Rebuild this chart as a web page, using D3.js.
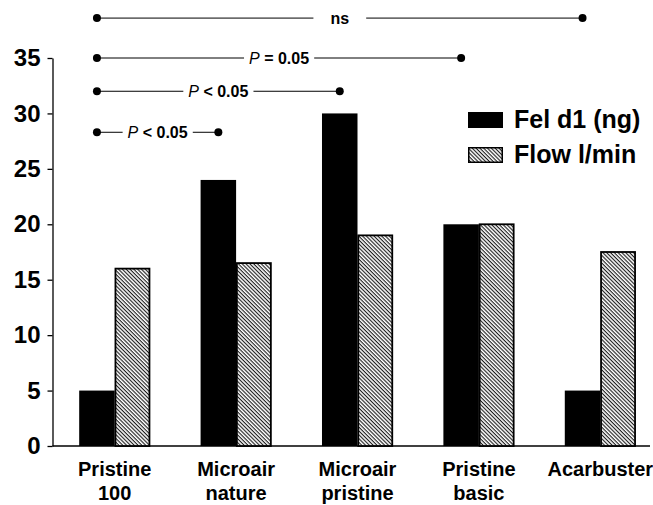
<!DOCTYPE html>
<html>
<head>
<meta charset="utf-8">
<script src="https://cdn.jsdelivr.net/npm/d3@7"></script>
<style>
  body { margin: 0; background: #fff; }
  svg { display: block; font-family: "Liberation Sans", Arial, Helvetica, sans-serif; }
</style>
</head>
<body>
<svg id="chart" width="653" height="505"></svg>
<script>
// data
const categories = [["Pristine", "100"], ["Microair", "nature"], ["Microair", "pristine"], ["Pristine", "basic"], ["Acarbuster"]];
const catKeys = categories.map(c => c.join(" "));
const seriesNames = ["Fel d1 (ng)", "Flow l/min"];
const felD1 = [5, 24, 30, 20, 5];
const flow = [16, 16.5, 19, 20, 17.5];
const yTicks = [0, 5, 10, 15, 20, 25, 30, 35];

// significance brackets: from group, to group, label, height (in y units)
const compFrom = [0, 0, 0, 0];
const compTo = [4, 3, 2, 1];
const compLabel = [["", "ns"], ["P", " = 0.05"], ["P", " < 0.05"], ["P", " < 0.05"]];
const compLevel = [38.6, 35, 32, 28.3];

const svg = d3.select("#chart");

const defs = svg.append("defs");
const pat = defs.append("pattern")
    .attr("id", "hatch")
    .attr("patternUnits", "userSpaceOnUse")
    .attr("width", 8)
    .attr("height", 2.7)
    .attr("patternTransform", "rotate(45)");
pat.append("rect").attr("width", 8).attr("height", 2.7).attr("fill", "#fff");
pat.append("line")
    .attr("x1", 0).attr("x2", 8)
    .attr("y1", 0.6).attr("y2", 0.6)
    .attr("stroke", "#000")
    .attr("stroke-width", 1);

const x0 = d3.scaleBand()
    .domain(catKeys)
    .range([54, 661])
    .paddingInner(0.415)
    .paddingOuter(0.2075);

const x1 = d3.scaleBand()
    .domain(seriesNames)
    .range([0, x0.bandwidth()]);

const y = d3.scaleLinear()
    .domain([0, 35])
    .range([446, 58]);

// y axis
const yAxis = svg.append("g")
    .attr("transform", "translate(52.5,0)")
    .call(d3.axisLeft(y).tickValues(yTicks).tickSize(5).tickSizeOuter(0).tickPadding(7));
yAxis.select(".domain").attr("stroke", "#000").attr("stroke-width", 1.3);
yAxis.selectAll(".tick line").attr("stroke", "#000").attr("stroke-width", 1.3);
yAxis.selectAll(".tick text")
    .attr("fill", "#000")
    .style("font-size", "24px")
    .style("font-weight", "bold");

// x axis line
svg.append("line")
    .attr("x1", 52.5)
    .attr("x2", 650)
    .attr("y1", y(0))
    .attr("y2", y(0))
    .attr("stroke", "#000")
    .attr("stroke-width", 1.3);

// bars
const groups = svg.selectAll(".grp")
    .data(catKeys)
    .enter()
    .append("g")
    .attr("class", "grp")
    .attr("transform", d => `translate(${x0(d)},0)`);

groups.append("rect")
    .attr("x", x1(seriesNames[0]))
    .attr("y", (d, i) => y(felD1[i]))
    .attr("width", x1.bandwidth())
    .attr("height", (d, i) => y(0) - y(felD1[i]))
    .attr("fill", "#000");

groups.append("rect")
    .attr("x", x1(seriesNames[1]) + 0.75)
    .attr("y", (d, i) => y(flow[i]))
    .attr("width", x1.bandwidth() - 1.5)
    .attr("height", (d, i) => y(0) - y(flow[i]))
    .attr("fill", "url(#hatch)")
    .attr("stroke", "#000")
    .attr("stroke-width", 1.8);

// x labels
const xl = svg.selectAll(".x-label")
    .data(categories)
    .enter()
    .append("text")
    .attr("class", "x-label")
    .attr("x", (d, i) => x0(catKeys[i]) + x0.bandwidth() / 2)
    .attr("y", 476)
    .attr("text-anchor", "middle")
    .style("font-size", "20px")
    .style("font-weight", "bold");
xl.each(function (d) {
    const t = d3.select(this);
    d.forEach((line, j) => {
        t.append("tspan")
         .attr("x", t.attr("x"))
         .attr("dy", j === 0 ? 0 : 24)
         .text(line);
    });
});

// significance brackets
const blackCenter = i => x0(catKeys[i]) + x1(seriesNames[0]) + x1.bandwidth() / 2;

compLabel.forEach((lab, k) => {
    const xa = blackCenter(compFrom[k]);
    const xb = blackCenter(compTo[k]);
    const yy = y(compLevel[k]);
    const g = svg.append("g");

    g.append("line")
     .attr("x1", xa).attr("x2", xb)
     .attr("y1", yy).attr("y2", yy)
     .attr("stroke", "#000")
     .attr("stroke-width", 1);

    const gap = g.append("rect").attr("fill", "#fff");

    const t = g.append("text")
        .attr("x", (xa + xb) / 2)
        .attr("y", yy)
        .attr("dy", "0.35em")
        .attr("text-anchor", "middle")
        .style("font-size", "16px");
    if (lab[0]) t.append("tspan").style("font-style", "italic").text(lab[0]);
    t.append("tspan").style("font-weight", "bold").text(lab[1]);

    const bb = t.node().getBBox();
    const pad = lab[0] ? 5 : 17;
    gap.attr("x", bb.x - pad).attr("y", bb.y)
       .attr("width", bb.width + 2 * pad).attr("height", bb.height);

    g.selectAll("circle")
     .data([xa, xb])
     .enter()
     .append("circle")
     .attr("cx", d => d)
     .attr("cy", yy)
     .attr("r", 4)
     .attr("fill", "#000");
});

// legend
const legend = svg.append("g").attr("transform", "translate(468,112)");
seriesNames.forEach((name, i) => {
    const item = legend.append("g").attr("transform", `translate(0,${i * 35})`);
    item.append("rect")
        .attr("x", i ? 0.75 : 0)
        .attr("y", i ? 0.75 : 0)
        .attr("width", i ? 33.5 : 35)
        .attr("height", i ? 14.5 : 16)
        .attr("fill", i ? "url(#hatch)" : "#000")
        .attr("stroke", i ? "#000" : "none")
        .attr("stroke-width", 1.5);
    item.append("text")
        .attr("x", 46)
        .attr("y", 16)
        .style("font-size", "25px")
        .style("font-weight", "bold")
        .text(name);
});
</script>
</body>
</html>
